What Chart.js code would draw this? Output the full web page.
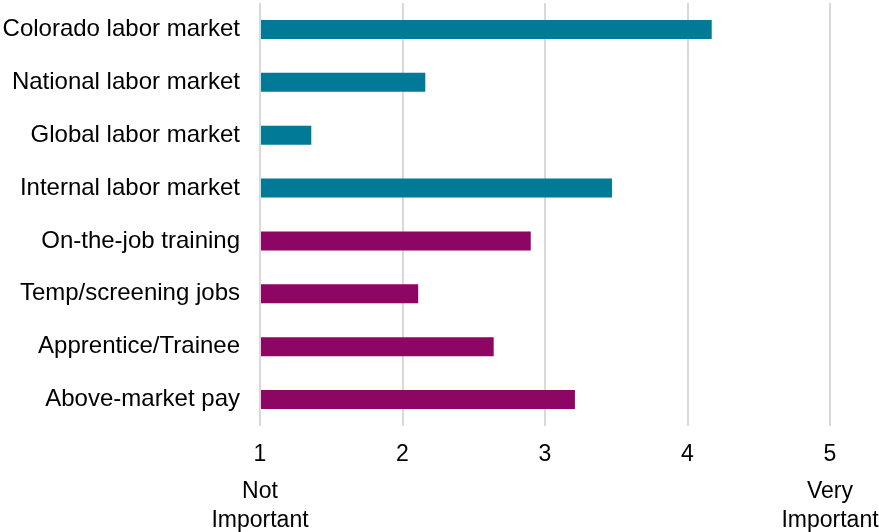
<!DOCTYPE html>
<html>
<head>
<meta charset="utf-8">
<script src="https://cdn.jsdelivr.net/npm/chart.js@4"></script>
<style>
  html, body { margin: 0; padding: 0; background: #fff; }
  #wrap { width: 879px; height: 532px; }
</style>
</head>
<body>
<div id="wrap"><canvas id="chart"></canvas></div>
<script>
const categories = [
    'Colorado labor market',
    'National labor market',
    'Global labor market',
    'Internal labor market',
    'On-the-job training',
    'Temp/screening jobs',
    'Apprentice/Trainee',
    'Above-market pay'
];
const values = [4.17, 2.16, 1.36, 3.47, 2.90, 2.11, 2.64, 3.21];
// 0 = labor market source, 1 = strategy
const groups = [0, 0, 0, 0, 1, 1, 1, 1];
const groupColors = ['#007A96', '#8E0664'];
const scaleTicks = [1, 2, 3, 4, 5];
const endLabels = [
    { value: 1, lines: ['Not', 'Important'] },
    { value: 5, lines: ['Very', 'Important'] }
];

const FONT = "'Liberation Sans', Arial, sans-serif";

// Draws the "Not Important" / "Very Important" captions under the end ticks
const endLabelPlugin = {
    id: 'endLabels',
    afterDraw(chart) {
        const ctx = chart.ctx;
        const x = chart.scales.x;
        const bottom = chart.chartArea.bottom;
        ctx.save();
        ctx.font = '23px ' + FONT;
        ctx.fillStyle = '#000';
        ctx.textAlign = 'center';
        ctx.textBaseline = 'middle';
        endLabels.forEach(lbl => {
            const px = x.getPixelForValue(lbl.value);
            ctx.fillText(lbl.lines[0], px, bottom + 66);
            ctx.fillText(lbl.lines[1], px, bottom + 95);
        });
        ctx.restore();
    }
};

new Chart(document.getElementById('chart'), {
    type: 'bar',
    data: {
        labels: categories,
        datasets: [{
            data: values,
            backgroundColor: groups.map(g => groupColors[g]),
            borderWidth: 0,
            categoryPercentage: 1,
            barPercentage: 0.36,
            base: 1
        }]
    },
    options: {
        indexAxis: 'y',
        responsive: true,
        maintainAspectRatio: false,
        animation: false,
        layout: {
            padding: { top: 3, right: 49, left: 0, bottom: 0 }
        },
        plugins: {
            legend: { display: false },
            tooltip: { enabled: false }
        },
        scales: {
            x: {
                min: 1,
                max: 5,
                afterBuildTicks(scale) {
                    scale.ticks = scaleTicks.map(v => ({ value: v }));
                },
                afterFit(scale) {
                    scale.height = 106;
                    scale.paddingLeft = 0;
                    scale.paddingRight = 0;
                },
                grid: {
                    color: '#d9d9d9',
                    lineWidth: 2,
                    drawTicks: false
                },
                border: { display: false },
                ticks: {
                    color: '#000',
                    padding: 15,
                    font: { family: FONT, size: 23 }
                }
            },
            y: {
                afterFit(scale) {
                    scale.width = 260;
                    scale.paddingTop = 0;
                    scale.paddingBottom = 0;
                },
                grid: { display: false, drawTicks: false },
                border: { display: false },
                ticks: {
                    color: '#000',
                    padding: 20,
                    font: { family: FONT, size: 24 }
                }
            }
        }
    },
    plugins: [endLabelPlugin]
});
</script>
</body>
</html>
